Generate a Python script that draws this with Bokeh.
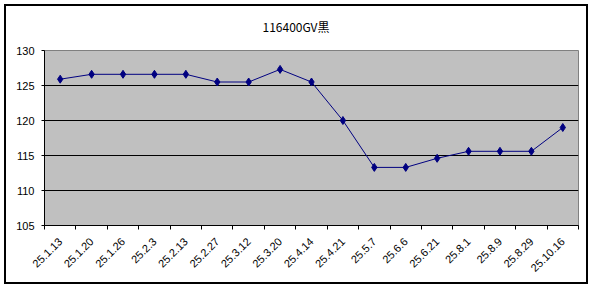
from bokeh.plotting import figure
from bokeh.models import FixedTicker, Range1d, Title
from bokeh.embed import file_html
from bokeh.resources import INLINE
import math

title_text = "116400GV黒"
dates = ["25.1.13", "25.1.20", "25.1.26", "25.2.3", "25.2.13", "25.2.27", "25.3.12",
         "25.3.20", "25.4.14", "25.4.21", "25.5.7", "25.6.6", "25.6.21", "25.8.1",
         "25.8.9", "25.8.29", "25.10.16"]
values = [125.9, 126.6, 126.6, 126.6, 126.6, 125.5, 125.5, 127.3, 125.5, 120.0,
          113.3, 113.3, 114.6, 115.6, 115.6, 115.6, 119.0]
y_ticks = [105, 110, 115, 120, 125, 130]

n = len(dates)
xs = [i + 0.5 for i in range(n)]

p = figure(width=592, height=288, output_backend="svg", toolbar_location=None,
           x_range=Range1d(0, n), y_range=Range1d(105, 130),
           min_border_left=44, min_border_right=14, min_border_top=50, min_border_bottom=63)
p.title = None
spacer = Title(text=" ", text_font_size="8px", standoff=0)
p.add_layout(spacer, "above")
main_title = Title(text=title_text, align="left", offset=218,
                   text_font="Noto Sans CJK JP", text_font_size="12px",
                   text_font_style="normal", text_color="black")
p.add_layout(main_title, "above")

p.background_fill_color = "#C0C0C0"
p.border_fill_alpha = 0
p.styles = {"background-color": "white",
            "box-shadow": "inset 0 0 0 4px white, inset 0 0 0 6px black"}

p.outline_line_color = "#808080"
p.outline_line_width = 1

p.line(xs, values, line_color="#000080", line_width=1)
p.scatter(xs, values, marker="diamond", size=8, fill_color="#000080", line_color="#000080")

p.xaxis.ticker = FixedTicker(ticks=xs, minor_ticks=list(range(n + 1)))
p.xaxis.major_label_overrides = {x: d for x, d in zip(xs, dates)}
p.xaxis.major_label_orientation = math.pi / 4
p.xaxis.major_tick_out = 0
p.xaxis.major_tick_in = 0
p.xaxis.minor_tick_out = 4
p.xaxis.minor_tick_in = 0
p.xaxis.minor_tick_line_color = "black"
p.xaxis.axis_line_color = "black"
p.xaxis.major_label_text_font = "Liberation Sans"
p.xaxis.major_label_text_font_size = "11px"
p.xaxis.major_label_text_color = "black"
p.xaxis.major_label_standoff = 10

p.yaxis.ticker = FixedTicker(ticks=y_ticks)
p.yaxis.major_tick_out = 3
p.yaxis.major_tick_in = 0
p.yaxis.minor_tick_line_color = None
p.yaxis.axis_line_color = "black"
p.yaxis.major_label_text_font = "Liberation Sans"
p.yaxis.major_label_text_font_size = "11px"
p.yaxis.major_label_text_color = "black"
p.yaxis.major_label_standoff = 7

p.xgrid.grid_line_color = None
p.ygrid.grid_line_color = "black"
p.ygrid.grid_line_width = 1

open("out.html", "w").write(file_html(p, INLINE))
